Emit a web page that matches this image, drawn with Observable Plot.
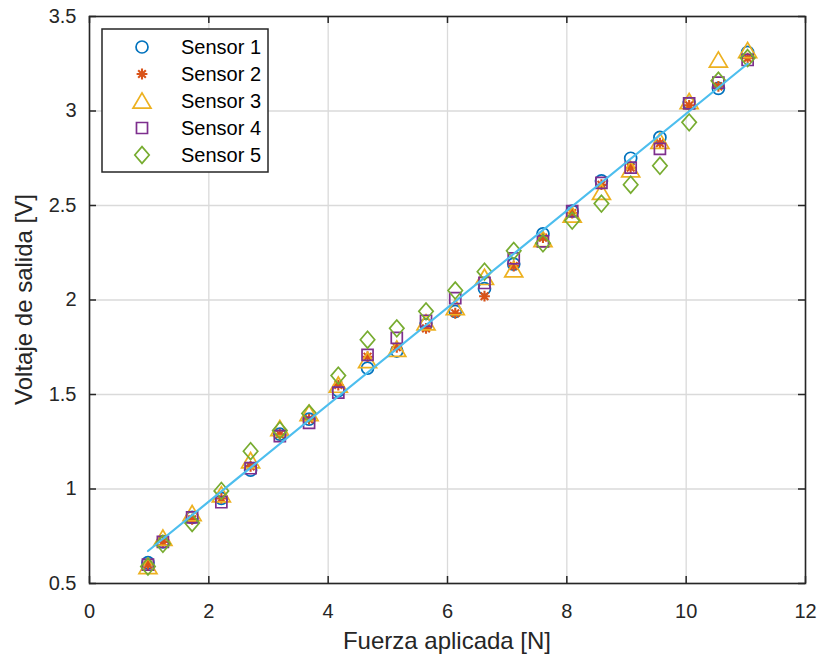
<!DOCTYPE html>
<html><head><meta charset="utf-8">
<script src="https://cdn.jsdelivr.net/npm/d3@7"></script>
<script src="https://cdn.jsdelivr.net/npm/@observablehq/plot@0.6"></script>
<style>body{margin:0;background:#fff} #chart{width:822px;height:657px}</style>
</head><body><div id="chart"></div>
<script>
const fuerza = [0.98,1.23,1.72,2.21,2.70,3.19,3.68,4.17,4.66,5.15,5.64,6.13,6.62,7.11,7.60,8.09,8.58,9.07,9.56,10.05,10.54,11.03];
const sensor1 = [0.61,0.72,0.85,0.95,1.10,1.29,1.37,1.52,1.64,1.73,1.87,1.94,2.06,2.19,2.35,2.47,2.63,2.75,2.86,3.04,3.12,3.31];
const sensor2 = [0.60,0.72,0.84,0.95,1.12,1.29,1.37,1.55,1.70,1.75,1.85,1.93,2.02,2.18,2.33,2.46,2.61,2.70,2.83,3.03,3.13,3.28];
const sensor3 = [0.59,0.74,0.87,0.97,1.15,1.32,1.40,1.55,1.68,1.74,1.88,1.96,2.12,2.16,2.32,2.45,2.57,2.69,2.84,3.05,3.27,3.32];
const sensor4 = [0.60,0.72,0.85,0.93,1.11,1.28,1.35,1.51,1.71,1.80,1.89,2.01,2.09,2.22,2.31,2.47,2.62,2.70,2.80,3.04,3.15,3.27];
const sensor5 = [0.59,0.71,0.82,0.99,1.20,1.31,1.40,1.60,1.79,1.85,1.94,2.05,2.15,2.26,2.30,2.42,2.51,2.61,2.71,2.94,3.16,3.28];
const seriesNames = ["Sensor 1","Sensor 2","Sensor 3","Sensor 4","Sensor 5"];
const seriesColors = ["#0072BD","#D95319","#EDB120","#7E2F8E","#77AC30"];
const fitX = [0.98, 11.03];
const fitY = [0.672, 3.25];
const fitColor = "#4DBEEE";
const xTicks = [0,2,4,6,8,10,12];
const xTickLabels = ["0","2","4","6","8","10","12"];
const yTicks = [0.5,1,1.5,2,2.5,3,3.5];
const yTickLabels = ["0.5","1","1.5","2","2.5","3","3.5"];
const xLabel = "Fuerza aplicada [N]";
const yLabel = "Voltaje de salida [V]";

// custom MATLAB-like marker shapes
const R = s => Math.sqrt(s / Math.PI);
const symCircle = {draw(c, s) { const r = R(s); c.moveTo(r, 0); c.arc(0, 0, r, 0, 2 * Math.PI); }};
const symStar = {draw(c, s) { const r = R(s) * 0.9; for (let k = 0; k < 4; k++) { const a = k * Math.PI / 4; c.moveTo(r * Math.cos(a), r * Math.sin(a)); c.lineTo(-r * Math.cos(a), -r * Math.sin(a)); } }};
const symTri = {draw(c, s) { const r = R(s); c.moveTo(0, -1.35 * r); c.lineTo(1.5 * r, 1.2 * r); c.lineTo(-1.5 * r, 1.2 * r); c.closePath(); }};
const symSquare = {draw(c, s) { const r = R(s) * 0.92; c.moveTo(-r, -r); c.lineTo(r, -r); c.lineTo(r, r); c.lineTo(-r, r); c.closePath(); }};
const symDiamond = {draw(c, s) { const r = R(s); c.moveTo(0, -1.4 * r); c.lineTo(1.2 * r, 0); c.lineTo(0, 1.4 * r); c.lineTo(-1.2 * r, 0); c.closePath(); }};
const symbols = [symCircle, symStar, symTri, symSquare, symDiamond];
const strokeWidths = [1.7, 2.1, 1.7, 1.7, 1.7];
const seriesValues = [sensor1, sensor2, sensor3, sensor4, sensor5];

const W = 822, H = 657, mL = 89, mR = 17, mT = 16, mB = 74;
const innerW = W - mL - mR, innerH = H - mT - mB;
const tickLen = 7;
const axisColor = "#262626";
const markerR = 6;

const dotMarks = seriesValues.map((vals, k) =>
  Plot.dot(fuerza.map((x, i) => ({x, y: vals[i]})), {
    x: "x", y: "y", r: markerR, symbol: symbols[k],
    stroke: seriesColors[k], fill: "none", strokeWidth: strokeWidths[k]
  })
);

const plot = Plot.plot({
  width: W, height: H,
  marginLeft: mL, marginRight: mR, marginTop: mT, marginBottom: mB,
  x: {domain: [0, 12]},
  y: {domain: [0.5, 3.5]},
  style: {fontFamily: "'Liberation Sans', Arial, sans-serif", fontSize: "20px", color: axisColor, background: "white"},
  marks: [
    Plot.gridX(xTicks, {stroke: "#dadada", strokeOpacity: 1, strokeWidth: 1.3}),
    Plot.gridY(yTicks, {stroke: "#dadada", strokeOpacity: 1, strokeWidth: 1.3}),
    ...dotMarks,
    Plot.line(fitX.map((x, i) => ({x, y: fitY[i]})), {x: "x", y: "y", stroke: fitColor, strokeWidth: 2.2}),
    Plot.tickX(xTicks, {x: d => d, insetTop: innerH - tickLen, stroke: axisColor, strokeWidth: 1.5}),
    Plot.tickX(xTicks, {x: d => d, insetBottom: innerH - tickLen, stroke: axisColor, strokeWidth: 1.5}),
    Plot.tickY(yTicks, {y: d => d, insetRight: innerW - tickLen, stroke: axisColor, strokeWidth: 1.5}),
    Plot.tickY(yTicks, {y: d => d, insetLeft: innerW - tickLen, stroke: axisColor, strokeWidth: 1.5}),
    Plot.frame({stroke: axisColor, strokeWidth: 1.6}),
    Plot.axisX(xTicks, {tickSize: 0, tickPadding: 20, tickFormat: d => xTickLabels[xTicks.indexOf(d)], label: null, fontSize: 20}),
    Plot.axisY(yTicks, {tickSize: 0, tickPadding: 13, tickFormat: d => yTickLabels[yTicks.indexOf(d)], label: null, fontSize: 20})
  ]
});
document.getElementById("chart").appendChild(plot);

const svg = d3.select(plot);
// axis labels
svg.append("text")
  .attr("x", mL + innerW / 2).attr("y", 649)
  .attr("text-anchor", "middle")
  .attr("font-size", 24).attr("fill", axisColor)
  .text(xLabel);
svg.append("text")
  .attr("transform", `translate(32,${mT + innerH / 2}) rotate(-90)`)
  .attr("text-anchor", "middle")
  .attr("font-size", 24).attr("fill", axisColor)
  .text(yLabel);

// legend
const lg = svg.append("g");
lg.append("rect").attr("x", 102).attr("y", 29).attr("width", 166).attr("height", 143)
  .attr("fill", "white").attr("stroke", axisColor).attr("stroke-width", 1.5);
seriesNames.forEach((name, k) => {
  const cy = 47 + k * 27;
  lg.append("path")
    .attr("transform", `translate(142,${cy})`)
    .attr("d", d3.symbol(symbols[k], markerR * markerR * Math.PI)())
    .attr("fill", "none").attr("stroke", seriesColors[k]).attr("stroke-width", strokeWidths[k]);
  lg.append("text").attr("x", 181).attr("y", cy).attr("dy", "0.35em")
    .attr("text-anchor", "start")
    .attr("font-size", 20).attr("fill", "#000").text(name);
});
</script>
</body></html>
